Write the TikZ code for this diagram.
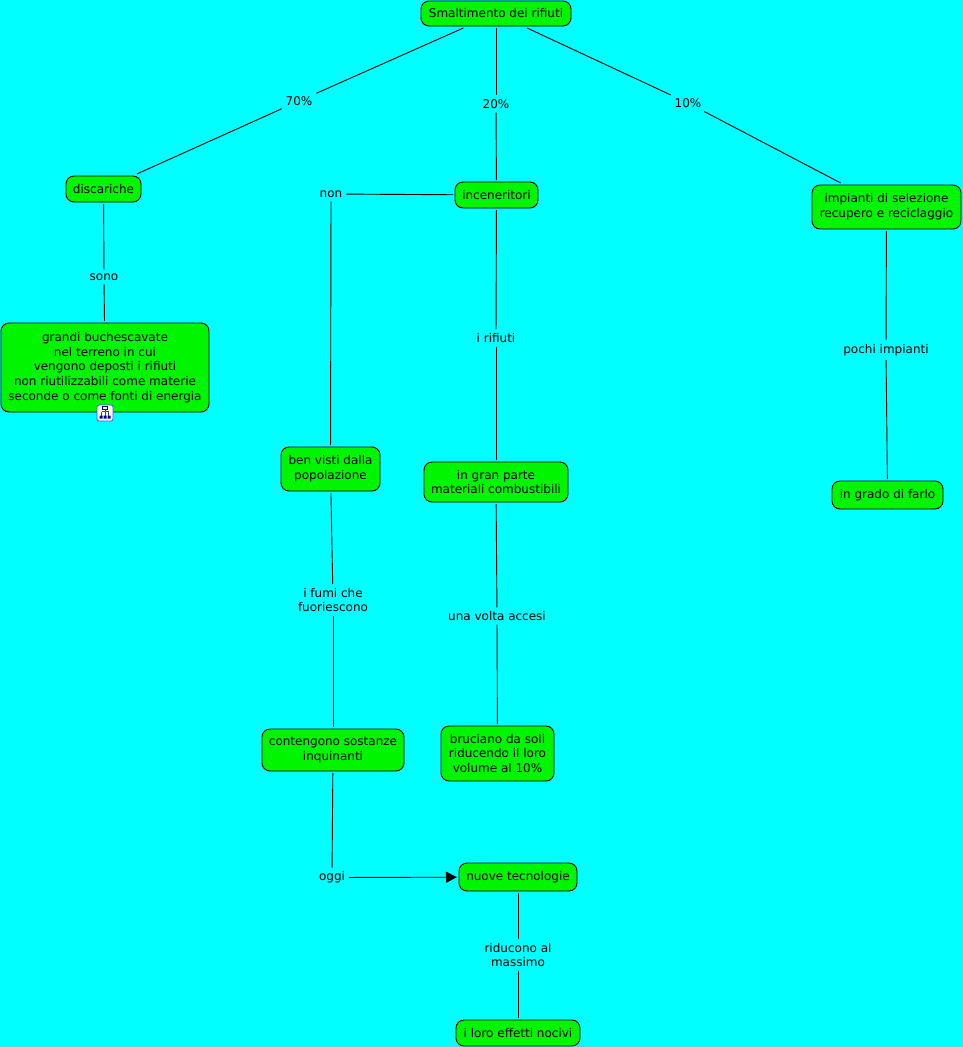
\documentclass[tikz,border=0pt]{standalone}
\usepackage{fontspec}
\setmainfont{DejaVu Sans}
\usetikzlibrary{arrows.meta}
\definecolor{sfondo}{RGB}{0,255,255}
\definecolor{verde}{RGB}{0,245,0}
\tikzset{
  concetto/.style={draw=black, fill=verde, rounded corners=8pt, line width=0.9pt, align=center,
    inner sep=0pt, outer sep=2pt, font=\fontsize{12}{14.7}\selectfont},
  legame/.style={align=center, inner sep=1pt, outer sep=3pt, font=\fontsize{12}{14.7}\selectfont},
  linea/.style={line width=0.9pt, black}
}

\begin{document}
\begin{tikzpicture}[x=1pt, y=-1pt, >=stealth]
  \fill[sfondo] (0,0) rectangle (963,1047);
  \useasboundingbox (0,0) rectangle (963,1047);

  % Concetti
  \node[concetto, minimum width=150pt, minimum height=25pt] (smalt) at (496,13.5) {Smaltimento dei rifiuti};
  \node[concetto, minimum width=75pt, minimum height=26pt] (disc) at (103.5,189) {discariche};
  \node[concetto, minimum width=83pt, minimum height=26pt] (incen) at (496.5,195) {inceneritori};
  \node[concetto, minimum width=149pt, minimum height=44pt] (impianti) at (886.5,207) {impianti di selezione\\recupero e reciclaggio};
  \node[concetto, minimum width=208pt, minimum height=89pt] (buche) at (105,367.5) {grandi buchescavate\\nel terreno in cui\\vengono deposti i rifiuti\\non riutilizzabili come materie\\seconde o come fonti di energia};
  \node[concetto, minimum width=99pt, minimum height=44pt] (visti) at (330.5,469) {ben visti dalla\\popolazione};
  \node[concetto, minimum width=144pt, minimum height=40pt] (gran) at (496,482) {in gran parte\\materiali combustibili};
  \node[concetto, minimum width=111pt, minimum height=28pt] (grado) at (887.5,495) {in grado di farlo};
  \node[concetto, minimum width=142pt, minimum height=42pt] (sost) at (333,750) {contengono sostanze\\inquinanti};
  \node[concetto, minimum width=113pt, minimum height=55pt] (bruc) at (497.5,753.5) {bruciano da soli\\riducendo il loro\\volume al 10\%};
  \node[concetto, minimum width=118pt, minimum height=28pt] (nuove) at (518,877) {nuove tecnologie};
  \node[concetto, minimum width=124pt, minimum height=26pt] (effetti) at (518,1033) {i loro effetti nocivi};

  % Legami
  \node[legame] (l70) at (299,101) {70\%};
  \node[legame] (l20) at (496,104) {20\%};
  \node[legame] (l10) at (688,103) {10\%};
  \node[legame] (non) at (331,194) {non};
  \node[legame] (sono) at (104,277) {sono};
  \node[legame] (rif) at (496,338) {i rifiuti};
  \node[legame] (pochi) at (886,350) {pochi impianti};
  \node[legame] (fumi) at (333,600) {i fumi che\\fuoriescono};
  \node[legame] (volta) at (497,616) {una volta accesi};
  \node[legame] (oggi) at (332,877.5) {oggi};
  \node[legame] (ridu) at (518,955) {riducono al\\massimo};

  % Collegamenti
  \draw[linea] (smalt) -- (l70);
  \draw[linea] (l70) -- (disc);
  \draw[linea] (smalt) -- (l20);
  \draw[linea] (l20) -- (incen);
  \draw[linea] (smalt) -- (l10);
  \draw[linea] (l10) -- (impianti);
  \draw[linea] (disc) -- (sono);
  \draw[linea] (sono) -- (buche);
  \draw[linea] (incen) -- (non);
  \draw[linea] (non) -- (visti);
  \draw[linea] (incen) -- (rif);
  \draw[linea] (rif) -- (gran);
  \draw[linea] (impianti) -- (pochi);
  \draw[linea] (pochi) -- (grado);
  \draw[linea] (visti) -- (fumi);
  \draw[linea] (fumi) -- (sost);
  \draw[linea] (gran) -- (volta);
  \draw[linea] (volta) -- (bruc);
  \draw[linea] (sost) -- (oggi);
  \draw[linea, -{Triangle[length=11pt,width=11pt]}] (oggi) -- (nuove);
  \draw[linea] (nuove) -- (ridu);
  \draw[linea] (ridu) -- (effetti);

  % Icona mappa
  \node[draw=blue!70, fill=white, rounded corners=2pt, line width=0.8pt, minimum size=16pt, inner sep=0pt] (icona) at (105,413) {};
  \draw[black!70, line width=0.6pt] (105,408) -- (105,416) (101.5,411.5) -- (108.5,411.5) (101.5,411.5) -- (101.5,416) (108.5,411.5) -- (108.5,416);
  \draw[blue!70!black, fill=white, line width=0.6pt] (102.5,406.5) rectangle (107.5,409.5);
  \fill[blue!60!black] (99.5,415.5) rectangle (102.5,418.5) (103.5,415.5) rectangle (106.5,418.5) (107.5,415.5) rectangle (110.5,418.5);
\end{tikzpicture}
\end{document}
